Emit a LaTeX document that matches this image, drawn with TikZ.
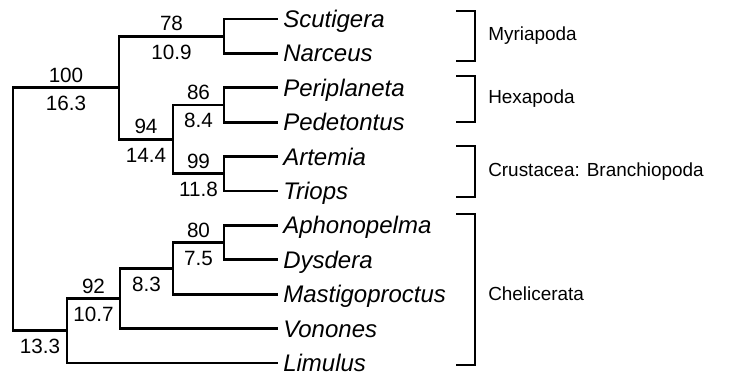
\documentclass[tikz,border=0pt]{standalone}
\usepackage{fontspec}
\setmainfont{Liberation Sans}
\usetikzlibrary{positioning}
\tikzset{
  branch/.style={line width=2.2pt},
  clamp/.style={line width=2pt},
  taxon/.style={anchor=west, inner xsep=3.75pt, inner ysep=0pt, font=\fontsize{18}{20}\selectfont\itshape, text height=12.9pt, text depth=0pt},
  supp/.style={inner sep=0pt, above=3pt, font=\fontsize{15.5}{17}\selectfont, text height=11.1pt, text depth=0pt},
  decay/.style={inner sep=0pt, below=5pt, font=\fontsize{15.5}{17}\selectfont, text height=11.1pt, text depth=0pt},
  cladelab/.style={anchor=west, inner sep=0pt, font=\fontsize{14.2}{16}\selectfont}
}

\begin{document}
\begin{tikzpicture}[x=0.75pt, y=-0.75pt]
  \useasboundingbox (0,0) rectangle (740,377);

  % taxa
  \node[taxon] (scut) at (278,19) {Scutigera};
  \node[taxon] (narc) at (278,53.4) {Narceus};
  \node[taxon] (peri) at (278,87.8) {Periplaneta};
  \node[taxon] (pede) at (278,122.2) {Pedetontus};
  \node[taxon] (arte) at (278,156.6) {Artemia};
  \node[taxon] (trio) at (278,191) {Triops};
  \node[taxon] (apho) at (278,225.4) {Aphonopelma};
  \node[taxon] (dysd) at (278,259.8) {Dysdera};
  \node[taxon] (mast) at (278,294.2) {Mastigoproctus};
  \node[taxon] (vono) at (278,328.6) {Vonones};
  \node[taxon] (limu) at (278,363) {Limulus};

  % internal nodes
  \coordinate (root) at (13,209.3);
  \coordinate (n100) at (119,87.8);
  \coordinate (nmyr) at (224,36.2);
  \coordinate (n94) at (173,139.4);
  \coordinate (nhex) at (224,105);
  \coordinate (ncru) at (224,173.8);
  \coordinate (n92) at (67,330.75);
  \coordinate (nara) at (120,298.5);
  \coordinate (nca) at (173,268.4);
  \coordinate (nad) at (224,242.6);

  % branches
  \draw[branch] (root) |- node[supp, pos=.75] {100} node[decay, pos=.75] {16.3} (n100);
  \draw[branch] (root) |- node[decay, pos=.75] {13.3} (n92);
  \draw[branch] (n100) |- node[supp, pos=.75] {78} node[decay, pos=.75] {10.9} (nmyr);
  \draw[branch] (n100) |- node[supp, pos=.75] {94} node[decay, pos=.75] {14.4} (n94);
  \draw[branch] (nmyr) |- (scut);
  \draw[branch] (nmyr) |- (narc);
  \draw[branch] (n94) |- node[supp, pos=.75] {86} node[decay, pos=.75] {8.4} (nhex);
  \draw[branch] (n94) |- node[supp, pos=.75] {99} node[decay, pos=.75] {11.8} (ncru);
  \draw[branch] (nhex) |- (peri);
  \draw[branch] (nhex) |- (pede);
  \draw[branch] (ncru) |- (arte);
  \draw[branch] (ncru) |- (trio);
  \draw[branch] (n92) |- node[supp, pos=.75] {92} node[decay, pos=.75] {10.7} (nara);
  \draw[branch] (n92) |- (limu);
  \draw[branch] (nara) |- node[decay, pos=.75] {8.3} (nca);
  \draw[branch] (nara) |- (vono);
  \draw[branch] (nca) |- node[supp, pos=.75] {80} node[decay, pos=.75] {7.5} (nad);
  \draw[branch] (nca) |- (mast);
  \draw[branch] (nad) |- (apho);
  \draw[branch] (nad) |- (dysd);

  % groups
  \node[cladelab] (myri) at (488,36) {Myriapoda};
  \node[cladelab] (hexa) at (488,99) {Hexapoda};
  \node[cladelab] (crus) at (488,171.5) {Crustacea: Branchiopoda};
  \node[cladelab] (chel) at (488,294) {Chelicerata};
  \draw[clamp] (456,11) -| (475,61) -- (456,61);
  \draw[clamp] (456,76) -| (475,122) -- (456,122);
  \draw[clamp] (456,146) -| (475,197) -- (456,197);
  \draw[clamp] (456,214) -| (475,365) -- (456,365);
\end{tikzpicture}
\end{document}
